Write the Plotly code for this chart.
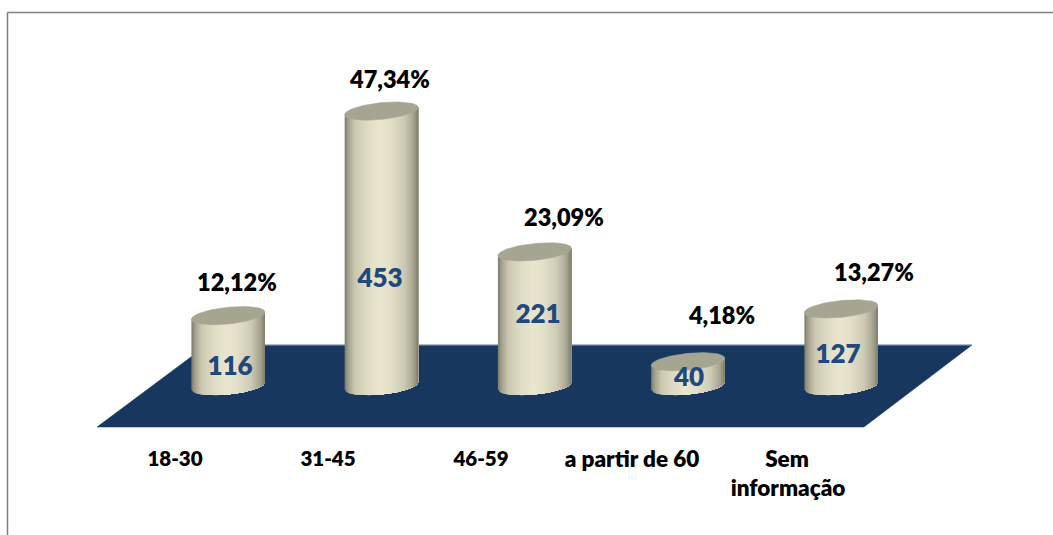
import numpy as np
import plotly.graph_objects as go

categories = ["18-30", "31-45", "46-59", "a partir de 60", "Sem informação"]
counts = [116, 453, 221, 40, 127]
percent_labels = ["12,12%", "47,34%", "23,09%", "4,18%", "13,27%"]

W, H = 1053, 535
PX_X = 153.25      # px per category step
X0 = 228.2         # px of first category
PX_Y = 0.607       # px per count unit
Y0 = 386.0         # px of zero


def ux(px):
    return (px - X0) / PX_X


def uy(py):
    return (Y0 - py) / PX_Y


def dx(px):
    return px / PX_X


def dy(px):
    return px / PX_Y


def hexrgb(h):
    return np.array([int(h[i:i + 2], 16) for i in (1, 3, 5)], float)


stops = [(0.0, "#7b7a6a"), (0.05, "#a3a28d"), (0.14, "#cbc8b1"), (0.30, "#dedbc3"),
         (0.47, "#e9e5ce"), (0.60, "#e5e1ca"), (0.80, "#cfccb6"), (0.93, "#a9a793"), (1.0, "#7c7b6b")]


def shade(f):
    for (a, ca), (b, cb) in zip(stops, stops[1:]):
        if f <= b:
            m = (f - a) / (b - a)
            c = hexrgb(ca) * (1 - m) + hexrgb(cb) * m
            return "rgb(%d,%d,%d)" % tuple(c.round())
    return stops[-1][1]


A, B, C = 36.8, 8.4, 3.6   # ellipse half-width, half-depth, tilt (px)
traces = []

# floor
traces.append(go.Scatter(
    x=[ux(97), ux(864), ux(972), ux(207), ux(97)],
    y=[uy(427), uy(427), uy(345), uy(345), uy(427)],
    mode="lines", fill="toself", fillcolor="#17375e",
    line=dict(color="#17375e", width=0.5), hoverinfo="skip", showlegend=False))
traces.append(go.Scatter(
    x=[ux(207), ux(972)], y=[uy(345), uy(345)], mode="lines",
    line=dict(color="#9aa5b3", width=1), hoverinfo="skip", showlegend=False))


def rim_y(t):
    # offset in px, downward positive: front of ellipse for t in [0, pi]
    return B * np.sin(t) - C * np.cos(t)


N = 40
for i, v in enumerate(counts):
    cx = i
    edges = np.linspace(-1, 1, N + 1)
    for k in range(N):
        u = edges[k:]                     # painter's: each strip runs to the right edge
        t = np.arccos(np.clip(u, -1, 1))
        xs = cx + dx(A * u)
        off = dy(rim_y(t))
        xpoly = np.r_[xs, xs[::-1]]
        ypoly = np.r_[v - off, (0 - off)[::-1]]
        traces.append(go.Scatter(
            x=xpoly, y=ypoly, mode="lines", fill="toself",
            fillcolor=shade((k + 0.5) / N), line=dict(width=0),
            hoverinfo="skip", showlegend=False))
    t = np.linspace(0, 2 * np.pi, 90)
    traces.append(go.Scatter(
        x=cx + dx(A * np.cos(t)), y=v - dy(rim_y(t)), mode="lines", fill="toself",
        fillcolor="#a6a592", line=dict(color="#a6a592", width=0.5),
        hoverinfo="skip", showlegend=False))

FONT = "Lato"
value_px = [(230, 368), (380, 280), (538, 316), (689, 379), (838, 356)]
traces.append(go.Scatter(
    x=[ux(p[0]) for p in value_px], y=[uy(p[1]) for p in value_px],
    text=[str(v) for v in counts], mode="text", textposition="middle center",
    textfont=dict(family=FONT, size=26, color="#1f497d", weight=800),
    hoverinfo="skip", showlegend=False))

pct_px = [(237, 285), (390, 82), (564, 220), (722, 318), (874, 275)]
traces.append(go.Scatter(
    x=[ux(p[0]) for p in pct_px], y=[uy(p[1]) for p in pct_px],
    text=percent_labels, mode="text", textposition="middle center",
    textfont=dict(family=FONT, size=23.5, color="#000000", weight=800),
    hoverinfo="skip", showlegend=False))

first, second = categories[-1].split(" ")
cat_text = categories[:-1] + [first, second]
cat_px = [(175, 461), (328, 461), (481, 461), (632, 461), (787, 461), (788, 490)]
traces.append(go.Scatter(
    x=[ux(p[0]) for p in cat_px], y=[uy(p[1]) for p in cat_px],
    text=cat_text, mode="text", textposition="middle center",
    textfont=dict(family=FONT, size=[20.5, 20.5, 20.5, 22.5, 22.5, 22.5], color="#000000", weight=800),
    hoverinfo="skip", showlegend=False))

fig = go.Figure(traces)
fig.update_layout(
    width=W, height=H, margin=dict(l=0, r=0, t=0, b=0, pad=0),
    paper_bgcolor="white", plot_bgcolor="white", showlegend=False,
    xaxis=dict(range=[ux(0), ux(W)], visible=False, fixedrange=True),
    yaxis=dict(range=[uy(H), uy(0)], visible=False, fixedrange=True),
    shapes=[
        dict(type="line", xref="paper", yref="paper", x0=7.5 / W, x1=1, y0=1 - 12.5 / H, y1=1 - 12.5 / H,
             line=dict(color="#808080", width=1.5)),
        dict(type="line", xref="paper", yref="paper", x0=7.5 / W, x1=7.5 / W, y0=0, y1=1 - 12.5 / H,
             line=dict(color="#808080", width=1.5)),
    ],
)
fig.write_html("out.html", config=dict(displayModeBar=False),
               post_script="document.body.style.margin='0';document.body.style.overflow='hidden';")
